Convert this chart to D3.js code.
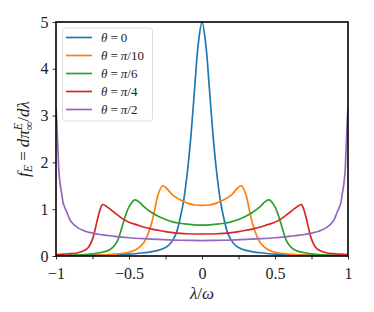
<!DOCTYPE html>
<html>
<head>
<meta charset="utf-8">
<script src="https://cdn.jsdelivr.net/npm/d3@7"></script>
<style>
  body { margin: 0; background: #fff; }
  svg text { font-family: "Liberation Serif", "DejaVu Serif", serif; }
</style>
</head>
<body>
<svg id="chart" width="374" height="312"></svg>
<script>
// values
const thetaLabels = ["0", "π/10", "π/6", "π/4", "π/2"];
const colors = ["#1f77b4", "#ff7f0e", "#2ca02c", "#d62728", "#9467bd"];

const xTicks = [-1, -0.75, -0.5, -0.25, 0, 0.25, 0.5, 0.75, 1];
const yTicks = [0, 1, 2, 3, 4, 5];

const blueX = [-1, -0.9, -0.8, -0.7, -0.6, -0.5, -0.4, -0.35, -0.3, -0.25, -0.225, -0.2, -0.175, -0.15, -0.125, -0.1, -0.075, -0.05, -0.025,
  0, 0.025, 0.05, 0.075, 0.1, 0.125, 0.15, 0.175, 0.2, 0.225, 0.25, 0.3, 0.35, 0.4, 0.5, 0.6, 0.7, 0.8, 0.9, 1];
const blueY = [0.01, 0.01, 0.015, 0.02, 0.03, 0.04, 0.07, 0.09, 0.12, 0.18, 0.24, 0.34, 0.5, 0.8, 1.2, 1.8, 2.6, 3.6, 4.55,
  5.0, 4.55, 3.6, 2.6, 1.8, 1.2, 0.8, 0.5, 0.34, 0.24, 0.18, 0.12, 0.09, 0.07, 0.04, 0.03, 0.02, 0.015, 0.01, 0.01];

const orangeX = [-1, -0.9, -0.8, -0.7, -0.6, -0.5, -0.45, -0.4, -0.375, -0.35, -0.325, -0.3, -0.27, -0.25, -0.2, -0.15, -0.1, -0.05,
  0, 0.05, 0.1, 0.15, 0.2, 0.25, 0.27, 0.3, 0.325, 0.35, 0.375, 0.4, 0.45, 0.5, 0.6, 0.7, 0.8, 0.9, 1];
const orangeY = [0.01, 0.01, 0.015, 0.02, 0.035, 0.08, 0.14, 0.28, 0.43, 0.65, 0.97, 1.32, 1.5, 1.47, 1.3, 1.2, 1.13, 1.09,
  1.08, 1.09, 1.13, 1.2, 1.3, 1.47, 1.5, 1.32, 0.97, 0.65, 0.43, 0.28, 0.14, 0.08, 0.035, 0.02, 0.015, 0.01, 0.01];

const greenX = [-1, -0.9, -0.8, -0.7, -0.65, -0.625, -0.6, -0.575, -0.55, -0.525, -0.5, -0.46, -0.425, -0.4, -0.35, -0.3, -0.25, -0.2, -0.15, -0.1, -0.05,
  0, 0.05, 0.1, 0.15, 0.2, 0.25, 0.3, 0.35, 0.4, 0.425, 0.46, 0.5, 0.525, 0.55, 0.575, 0.6, 0.625, 0.65, 0.7, 0.8, 0.9, 1];
const greenY = [0.01, 0.015, 0.03, 0.07, 0.11, 0.15, 0.22, 0.35, 0.6, 0.85, 1.05, 1.2, 1.14, 1.06, 0.94, 0.85, 0.78, 0.73, 0.7, 0.68, 0.665,
  0.66, 0.665, 0.68, 0.7, 0.73, 0.78, 0.85, 0.94, 1.06, 1.14, 1.2, 1.05, 0.85, 0.6, 0.35, 0.22, 0.15, 0.11, 0.07, 0.03, 0.015, 0.01];

const redX = [-1, -0.95, -0.9, -0.85, -0.8, -0.775, -0.75, -0.725, -0.7, -0.68, -0.65, -0.625, -0.6, -0.55, -0.5, -0.45, -0.4, -0.35, -0.3, -0.25, -0.2, -0.15, -0.1, -0.05,
  0, 0.05, 0.1, 0.15, 0.2, 0.25, 0.3, 0.35, 0.4, 0.45, 0.5, 0.55, 0.6, 0.625, 0.65, 0.68, 0.7, 0.725, 0.75, 0.775, 0.8, 0.85, 0.9, 0.95, 1];
const redY = [0.03, 0.04, 0.05, 0.07, 0.13, 0.2, 0.36, 0.66, 0.97, 1.1, 1.05, 0.99, 0.93, 0.81, 0.72, 0.67, 0.62, 0.58, 0.55, 0.52, 0.5, 0.485, 0.475, 0.47,
  0.47, 0.47, 0.475, 0.485, 0.5, 0.52, 0.55, 0.58, 0.62, 0.67, 0.72, 0.81, 0.93, 0.99, 1.05, 1.1, 0.97, 0.66, 0.36, 0.2, 0.13, 0.07, 0.05, 0.04, 0.03];

const purpleX = [-1, -0.995, -0.99, -0.985, -0.98, -0.97, -0.96, -0.95, -0.925, -0.9, -0.85, -0.8, -0.75, -0.7, -0.65, -0.6, -0.5, -0.4, -0.3, -0.2, -0.1,
  0, 0.1, 0.2, 0.3, 0.4, 0.5, 0.6, 0.65, 0.7, 0.75, 0.8, 0.85, 0.9, 0.925, 0.95, 0.96, 0.97, 0.98, 0.985, 0.99, 0.995, 1];
const purpleY = [3.15, 2.9, 2.5, 2.15, 1.8, 1.5, 1.32, 1.12, 0.93, 0.75, 0.6, 0.53, 0.49, 0.46, 0.44, 0.42, 0.39, 0.37, 0.355, 0.34, 0.335,
  0.33, 0.335, 0.34, 0.355, 0.37, 0.39, 0.42, 0.44, 0.46, 0.49, 0.53, 0.6, 0.75, 0.93, 1.12, 1.32, 1.5, 1.8, 2.15, 2.5, 2.9, 3.15];

const seriesX = [blueX, orangeX, greenX, redX, purpleX];
const seriesY = [blueY, orangeY, greenY, redY, purpleY];

const svg = d3.select("#chart");
const margin = { left: 56, right: 348, top: 22, bottom: 256 };

const x = d3.scaleLinear().domain([-1, 1]).range([margin.left, margin.right]);
const y = d3.scaleLinear().domain([0, 5]).range([margin.bottom, margin.top]);

svg.append("clipPath").attr("id", "plotClip")
  .append("rect")
  .attr("x", margin.left).attr("y", margin.top)
  .attr("width", margin.right - margin.left).attr("height", margin.bottom - margin.top);

const fmt = d => String(d).replace("-", "\u2212");

// x axis: ticks every 0.25, labels every 0.5
const xAxis = svg.append("g")
  .attr("transform", `translate(0,${margin.bottom})`)
  .call(d3.axisBottom(x).tickValues(xTicks).tickSize(3.5).tickPadding(8)
    .tickFormat(d => Math.abs(d * 2 - Math.round(d * 2)) < 1e-9 ? fmt(d) : ""));
xAxis.attr("font-family", null).attr("font-size", null);
xAxis.select(".domain").remove();
xAxis.selectAll("text").attr("font-size", 16).attr("fill", "#222");
xAxis.selectAll("line").attr("stroke", "#000").attr("stroke-width", 0.8);

const yAxis = svg.append("g")
  .attr("transform", `translate(${margin.left},0)`)
  .call(d3.axisLeft(y).tickValues(yTicks).tickSize(3.5).tickPadding(4).tickFormat(fmt));
yAxis.attr("font-family", null).attr("font-size", null);
yAxis.select(".domain").remove();
yAxis.selectAll("text").attr("font-size", 16).attr("fill", "#222");
yAxis.selectAll("line").attr("stroke", "#000").attr("stroke-width", 0.8);

// curves
const line = d3.line()
  .x(d => x(d[0]))
  .y(d => y(d[1]))
  .curve(d3.curveCatmullRom.alpha(0.5));

const plot = svg.append("g").attr("clip-path", "url(#plotClip)");
seriesX.forEach((xs, i) => {
  const pts = xs.map((v, j) => [v, seriesY[i][j]]);
  plot.append("path")
    .datum(pts)
    .attr("d", line)
    .attr("fill", "none")
    .attr("stroke", colors[i])
    .attr("stroke-width", 1.7)
    .attr("stroke-linejoin", "round");
});

// frame
svg.append("rect")
  .attr("x", margin.left).attr("y", margin.top)
  .attr("width", margin.right - margin.left).attr("height", margin.bottom - margin.top)
  .attr("fill", "none").attr("stroke", "#000").attr("stroke-width", 1.6);

// legend
const legend = svg.append("g");
legend.append("rect")
  .attr("x", 62.5).attr("y", 28).attr("width", 90).attr("height", 93)
  .attr("rx", 3).attr("fill", "#fff").attr("fill-opacity", 0.8)
  .attr("stroke", "#d6d6d6").attr("stroke-width", 0.8);

thetaLabels.forEach((lab, i) => {
  const ly = 37.5 + i * 18;
  legend.append("line")
    .attr("x1", 66).attr("x2", 92).attr("y1", ly).attr("y2", ly)
    .attr("stroke", colors[i]).attr("stroke-width", 1.7);
  const t = legend.append("text").attr("x", 101).attr("y", ly + 4).attr("font-size", 13).attr("fill", "#222");
  t.append("tspan").attr("font-style", "italic").text("θ");
  t.append("tspan").attr("dx", 3).text("=");
  lab.split("").forEach((ch, k) => {
    t.append("tspan").attr("dx", k === 0 ? 3 : 0)
      .attr("font-style", ch === "π" ? "italic" : "normal").text(ch);
  });
});

// x label
const xl = svg.append("text").attr("x", 202).attr("y", 299)
  .attr("text-anchor", "middle").attr("font-size", 17).attr("fill", "#222");
xl.append("tspan").attr("font-style", "italic").text("λ");
xl.append("tspan").text("/");
xl.append("tspan").attr("font-style", "italic").text("ω");

// y label: f_E = dπ^E_∞ / dλ
const yg = svg.append("g").attr("transform", "translate(29,139) rotate(-90)");
const yl = yg.append("text").attr("x", 0).attr("y", 0).attr("font-size", 17).attr("fill", "#222");
yl.append("tspan").attr("font-style", "italic").text("f");
yl.append("tspan").attr("font-style", "italic").attr("font-size", 12).attr("dy", 3).text("E");
yl.append("tspan").attr("dy", -3).attr("dx", 4).text("=");
yl.append("tspan").attr("font-style", "italic").attr("dx", 4).text("dπ");
const sup = yl.append("tspan").attr("font-style", "italic").attr("font-size", 12).attr("dy", -7).text("E");
const supW = sup.node().getComputedTextLength();
const sub = yl.append("tspan").attr("font-size", 12).attr("dx", -supW).attr("dy", 11).text("∞");
const subW = sub.node().getComputedTextLength();
yl.append("tspan").attr("dx", Math.max(0, supW - subW)).attr("dy", -4).text("/");
yl.append("tspan").attr("font-style", "italic").text("dλ");
const bw = yl.node().getBBox().width;
yl.attr("x", -bw / 2);
</script>
</body>
</html>
